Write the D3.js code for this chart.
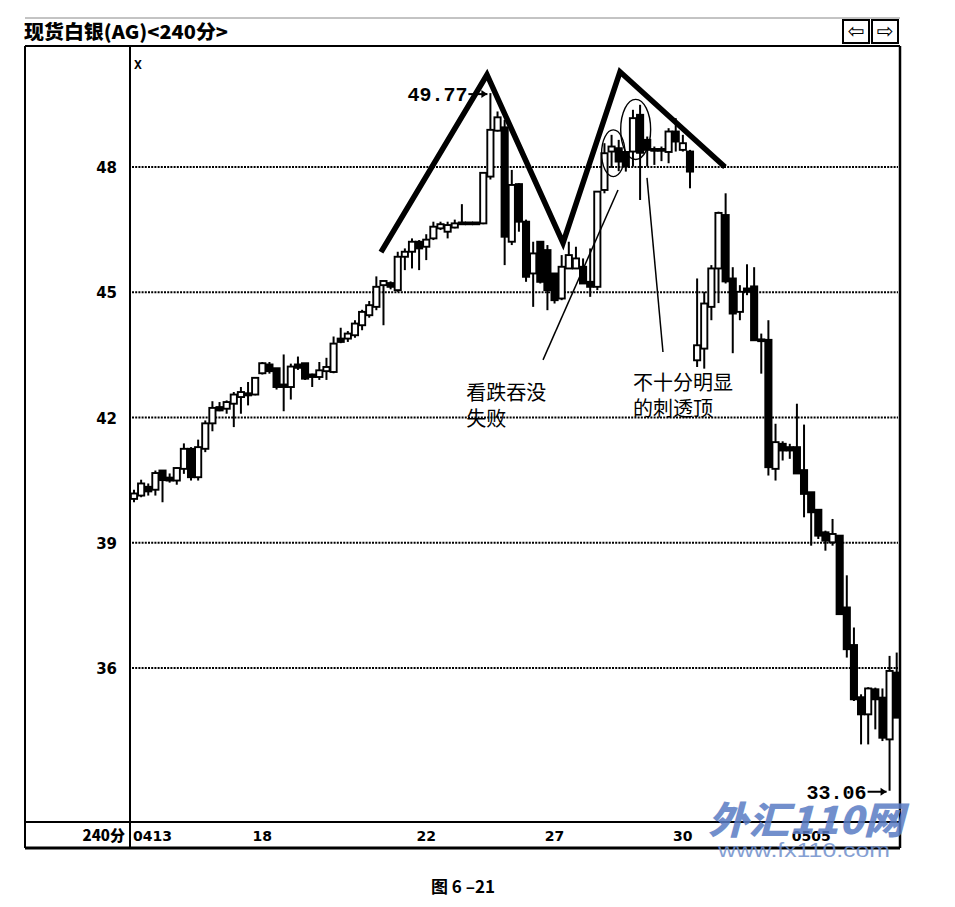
<!DOCTYPE html>
<html><head><meta charset="utf-8">
<script src="https://cdn.jsdelivr.net/npm/d3@7/dist/d3.min.js"></script>
<style>
html,body{margin:0;padding:0;background:#fff;}
svg{display:block;}
</style></head>
<body>
<svg id="chart" width="955" height="907"></svg>
<script>
// ---------- data ----------
const title = "现货白银(AG)<240分>";
const periodLabel = "240分";
const opens = [40.05,40.13,40.34,40.27,40.73,40.56,40.49,40.77,41.25,40.57,41.25,41.86,42.25,42.21,42.33,42.49,42.58,42.55,43.06,43.27,43.18,42.73,42.73,43.27,43.30,43.03,42.97,43.11,43.09,43.89,43.89,43.97,44.21,44.45,44.65,45.17,45.22,45.05,45.85,45.97,46.21,46.09,46.29,46.53,46.45,46.55,46.65,46.65,46.65,46.65,47.77,48.87,48.95,46.21,47.59,46.69,45.45,46.21,46.01,45.45,44.85,45.57,45.57,45.61,45.25,45.13,47.45,48.37,48.45,48.36,48.37,49.25,48.65,48.41,48.39,48.36,48.85,48.41,48.37,43.37,43.65,44.65,45.57,46.85,45.33,44.53,45.09,45.14,43.85,43.86,40.77,41.37,41.29,41.29,40.74,40.21,39.79,39.25,39.01,39.17,37.45,36.55,35.30,34.89,35.49,35.29,34.29,35.89];
const highs = [40.27,40.51,40.42,40.73,40.74,40.66,40.81,41.38,41.29,41.47,41.93,42.39,42.37,42.41,42.61,42.73,42.85,42.97,43.33,43.33,43.18,43.51,43.29,43.46,43.30,43.05,43.33,43.43,43.94,44.15,44.07,44.33,44.58,44.79,45.38,45.29,45.26,45.97,46.05,46.29,46.25,46.39,46.69,46.69,46.69,46.74,47.11,46.65,46.65,47.86,49.77,49.33,49.13,47.93,47.61,46.74,46.21,46.21,46.13,45.45,45.89,46.21,46.09,45.81,46.05,47.41,48.57,48.77,48.65,48.37,49.37,49.49,48.73,48.49,48.49,48.93,49.17,48.77,48.41,45.33,45.01,45.65,46.93,47.37,45.60,45.17,45.67,45.60,44.01,44.33,41.85,41.43,41.37,42.33,41.83,40.21,39.79,39.29,39.57,39.17,38.22,36.97,35.37,35.54,35.53,35.51,36.29,36.37];
const lows = [39.97,40.09,40.13,40.13,39.97,40.44,40.39,40.65,40.49,40.49,41.17,41.67,42.15,42.09,41.77,42.09,42.29,42.53,43.03,43.05,42.67,42.15,42.43,43.14,42.90,42.73,42.90,42.90,43.06,43.78,43.81,43.91,44.09,44.39,44.57,44.21,45.07,45.01,45.53,45.57,45.53,45.77,46.25,46.49,46.29,46.53,46.63,46.65,46.65,46.63,47.70,48.85,45.65,46.13,46.45,45.25,44.65,45.21,44.57,44.73,44.81,45.57,45.57,45.21,44.89,45.05,47.37,47.98,47.90,47.89,48.01,47.21,48.01,48.05,48.14,48.09,48.37,48.37,47.49,43.21,43.17,44.33,44.74,45.21,43.54,44.33,44.93,43.85,43.05,40.61,40.49,40.97,41.01,40.66,39.61,38.93,39.09,38.81,38.93,37.29,36.25,35.21,34.17,34.17,34.53,34.25,33.06,34.81];
const closes = [40.18,40.42,40.23,40.67,40.50,40.49,40.79,41.25,40.57,41.29,41.86,42.23,42.17,42.37,42.55,42.61,42.53,42.95,43.30,43.11,42.73,42.79,43.22,43.19,42.93,42.97,43.13,43.21,43.77,43.81,44.01,44.25,44.53,44.69,45.13,45.27,45.13,45.85,45.97,46.21,46.05,46.26,46.57,46.63,46.61,46.65,46.65,46.65,46.65,47.86,48.89,49.19,46.33,47.57,46.69,45.37,45.93,45.25,45.05,44.81,45.61,45.89,45.81,45.21,45.13,47.41,48.33,48.49,48.13,48.01,49.17,48.34,48.41,48.40,48.41,48.85,48.61,48.57,47.89,43.73,44.73,45.57,46.90,45.26,44.49,45.01,45.01,43.85,43.83,40.81,41.41,41.21,41.21,40.66,40.17,39.73,39.17,39.05,39.21,37.29,36.45,35.25,34.89,35.51,35.25,34.33,35.93,34.81];
const yTicks = [48, 45, 42, 39, 36];
const dateLabels = ["0413", "18", "22", "27", "30", "0505"];
const dateIndex = [0, 18, 41, 59, 77, 95];
// annotations (data coordinates: candle index, price)
const mLineIdx = [34.65, 49.52, 60.19, 68.18, 82.91];
const mLineVal = [45.96, 50.21, 46.18, 50.28, 48.00];
const pointer1Idx = [57.38, 67.9], pointer1Val = [43.38, 47.45];
const pointer2Idx = [71.97, 74.21], pointer2Val = [47.74, 43.57];
const ellipseIdx = [67.24, 70.38], ellipseVal = [48.33, 48.90];
const ellipseRx = [1.64, 2.10], ellipseRy = [0.56, 0.72];
const note1 = ["看跌吞没", "失败"], note1Pos = [46.6, 42.42];
const note2 = ["不十分明显", "的刺透顶"], note2Pos = [70.0, 42.66];
const maxLabel = "49.77", maxIdx = 50;
const minLabel = "33.06", minIdx = 106;
const caption = "图 6 –21";

// ---------- layout ----------
const svg = d3.select("#chart");
const frame = {left: 25, right: 900, top: 46, axisTop: 822, bottom: 848, divider: 130};
const x = d3.scaleLinear().domain([0, opens.length - 1]).range([134, 896.7]);
const y = d3.scaleLinear().domain([36, 48]).range([668, 167]);
const ink = "#000";

// title bar
svg.append("line").attr("x1", frame.left).attr("x2", frame.right).attr("y1", 18).attr("y2", 18)
  .attr("stroke", "#888").attr("stroke-width", 1);
svg.append("text").attr("x", 24).attr("y", 39).text(title)
  .attr("font-family", "'Noto Sans CJK SC'").attr("font-weight", 900).attr("font-size", 19)
  .attr("textLength", 204).attr("lengthAdjust", "spacingAndGlyphs").attr("fill", ink);
// nav buttons
[[843, "⇦"], [872, "⇨"]].forEach(([bx, ch]) => {
  svg.append("rect").attr("x", bx).attr("y", 20).attr("width", 26).attr("height", 23)
    .attr("fill", "#fff").attr("stroke", ink).attr("stroke-width", 2);
  svg.append("text").attr("x", bx + 13).attr("y", 38).attr("text-anchor", "middle").text(ch)
    .attr("font-family", "DejaVu Sans").attr("font-size", 20).attr("fill", ink);
});

// frame
svg.append("line").attr("x1", frame.left).attr("x2", frame.right).attr("y1", frame.top).attr("y2", frame.top)
  .attr("stroke", ink).attr("stroke-width", 2);
svg.append("line").attr("x1", frame.left).attr("x2", frame.left).attr("y1", frame.top).attr("y2", frame.bottom)
  .attr("stroke", ink).attr("stroke-width", 2);
svg.append("line").attr("x1", frame.right).attr("x2", frame.right).attr("y1", frame.top).attr("y2", frame.bottom)
  .attr("stroke", ink).attr("stroke-width", 2.5);
svg.append("line").attr("x1", frame.divider).attr("x2", frame.divider).attr("y1", frame.top).attr("y2", frame.bottom)
  .attr("stroke", ink).attr("stroke-width", 2);
svg.append("line").attr("x1", frame.left).attr("x2", frame.right).attr("y1", frame.axisTop).attr("y2", frame.axisTop)
  .attr("stroke", ink).attr("stroke-width", 2);
svg.append("line").attr("x1", frame.left).attr("x2", frame.right).attr("y1", frame.bottom).attr("y2", frame.bottom)
  .attr("stroke", ink).attr("stroke-width", 3);

svg.append("text").attr("x", 134).attr("y", 69).text("X")
  .attr("font-family", "DejaVu Sans Mono").attr("font-weight", "bold").attr("font-size", 13).attr("fill", ink);

// grid + y labels
const grid = svg.append("g");
yTicks.forEach(v => {
  grid.append("line").attr("x1", frame.divider + 2).attr("x2", frame.right - 2)
    .attr("y1", y(v)).attr("y2", y(v)).attr("stroke", ink).attr("stroke-width", 2.2)
    .attr("stroke-dasharray", "2,1.2");
  grid.append("text").attr("x", 117).attr("y", y(v) + 6).attr("text-anchor", "end").text(v)
    .attr("font-family", "DejaVu Sans").attr("font-weight", "bold").attr("font-size", 15).attr("fill", ink);
});

// x labels
svg.append("text").attr("x", 125).attr("y", 841).attr("text-anchor", "end").text(periodLabel)
  .attr("font-family", "'Noto Sans CJK SC'").attr("font-weight", 900).attr("font-size", 15).attr("fill", ink);
dateLabels.forEach((lab, i) => {
  const t = svg.append("text").attr("y", 841).text(lab)
    .attr("font-family", "DejaVu Sans").attr("font-weight", "bold").attr("font-size", 14).attr("fill", ink);
  if (i === 0) t.attr("x", x(dateIndex[i]) - 1).attr("text-anchor", "start");
  else t.attr("x", x(dateIndex[i])).attr("text-anchor", "middle");
});

// candles
const bw = 6.2;
const candles = svg.append("g");
opens.forEach((o, i) => {
  const c = closes[i], cx = x(i);
  candles.append("line").attr("x1", cx).attr("x2", cx).attr("y1", y(highs[i])).attr("y2", y(lows[i]))
    .attr("stroke", ink).attr("stroke-width", 2);
  const top = y(Math.max(o, c)), bot = y(Math.min(o, c));
  const h = Math.max(bot - top, 1.8);
  const up = c >= o;
  candles.append("rect").attr("x", cx - bw / 2).attr("y", top - (bot - top < 1.8 ? 0.9 : 0))
    .attr("width", bw).attr("height", h)
    .attr("fill", up && h > 3 ? "#fff" : ink).attr("stroke", ink).attr("stroke-width", 1.9);
});

// annotations
const ann = svg.append("g");
const mPts = mLineIdx.map((d, i) => [x(d), y(mLineVal[i])]);
ann.append("path").attr("d", d3.line()(mPts)).attr("fill", "none").attr("stroke", ink)
  .attr("stroke-width", 5.5).attr("stroke-linejoin", "miter").attr("stroke-linecap", "butt");
[[pointer1Idx, pointer1Val], [pointer2Idx, pointer2Val]].forEach(([pi, pv]) => {
  ann.append("line").attr("x1", x(pi[0])).attr("y1", y(pv[0])).attr("x2", x(pi[1])).attr("y2", y(pv[1]))
    .attr("stroke", ink).attr("stroke-width", 1.5);
});
ellipseIdx.forEach((ei, i) => {
  ann.append("ellipse").attr("cx", x(ei)).attr("cy", y(ellipseVal[i]))
    .attr("rx", x(ellipseRx[i]) - x(0)).attr("ry", y(0) - y(ellipseRy[i]))
    .attr("fill", "none").attr("stroke", ink).attr("stroke-width", 1.4);
});
const noteFont = "'Noto Sans CJK SC'";
note1.forEach((t, k) => ann.append("text").attr("x", x(note1Pos[0])).attr("y", y(note1Pos[1]) + k * 26).text(t)
  .attr("font-family", noteFont).attr("font-size", 20).attr("fill", ink));
note2.forEach((t, k) => ann.append("text").attr("x", x(note2Pos[0])).attr("y", y(note2Pos[1]) + k * 26).text(t)
  .attr("font-family", noteFont).attr("font-size", 20).attr("fill", ink));

function priceTag(label, idx, val) {
  const tipX = x(idx) - 3, yy = y(val) + 1;
  ann.append("line").attr("x1", tipX - 19).attr("x2", tipX).attr("y1", yy).attr("y2", yy)
    .attr("stroke", ink).attr("stroke-width", 2);
  ann.append("path").attr("d", `M${tipX},${yy} l-6,-4 l0,8 z`).attr("fill", ink);
  ann.append("text").attr("x", tipX - 20).attr("y", yy + 7).attr("text-anchor", "end").text(label)
    .attr("font-family", "Liberation Mono").attr("font-weight", "bold").attr("font-size", 20).attr("fill", ink);
}
priceTag(maxLabel, maxIdx, 49.77);
priceTag(minLabel, minIdx, 33.06);

// watermark (overlays the chart as in the reference)
const wm = svg.append("g").attr("opacity", 0.85);
wm.append("text").attr("x", 708).attr("y", 834).text("外汇110网")
  .attr("font-family", "'Noto Sans CJK SC'").attr("font-weight", 900).attr("font-style", "italic")
  .attr("font-size", 38).attr("fill", "#5a7cc4").attr("textLength", 196).attr("lengthAdjust", "spacingAndGlyphs");
wm.append("text").attr("x", 718).attr("y", 857).text("www.fx110.com")
  .attr("font-family", "Liberation Sans").attr("font-size", 20).attr("fill", "#6f8fcc")
  .attr("textLength", 172).attr("lengthAdjust", "spacingAndGlyphs");

// caption
svg.append("text").attr("x", 463).attr("y", 893).attr("text-anchor", "middle").text(caption)
  .attr("font-family", "'Noto Sans CJK SC'").attr("font-weight", 700).attr("font-size", 17).attr("fill", ink);
</script>
</body></html>
